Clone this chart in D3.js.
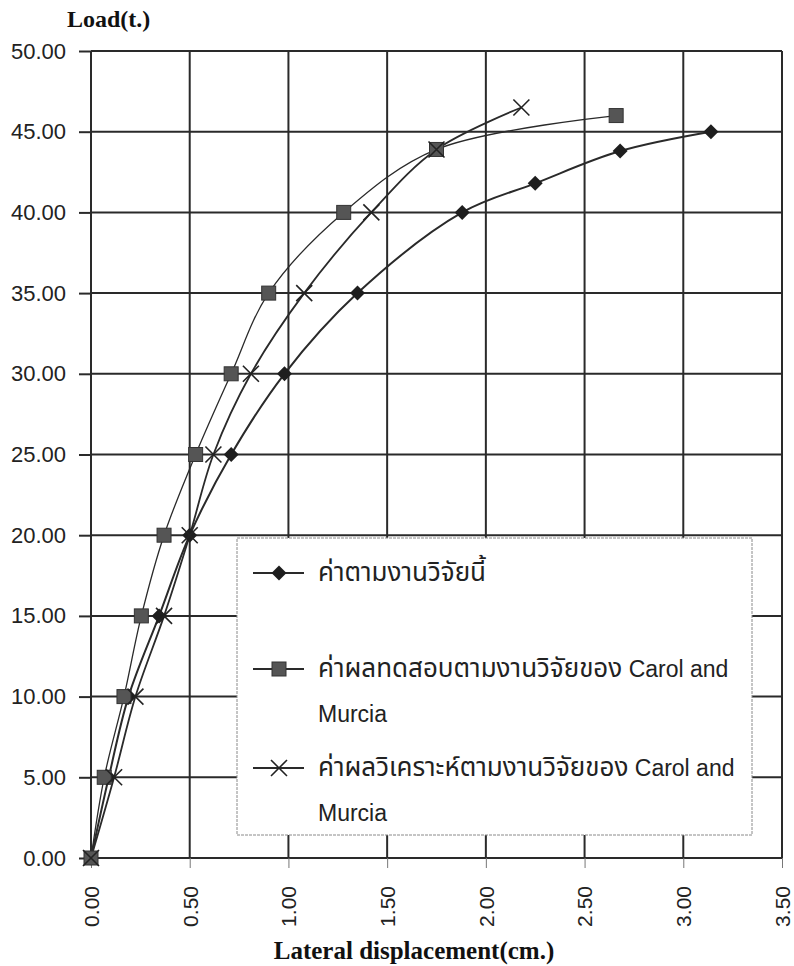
<!DOCTYPE html>
<html>
<head>
<meta charset="utf-8">
<script src="https://cdn.jsdelivr.net/npm/d3@7"></script>
<style>
  body { margin: 0; background: #fff; }
  svg { display: block; }
</style>
</head>
<body>
<div id="container"></div>
<script>

// ---- data ----
var loadThis = [0, 5, 10, 15, 20, 25, 30, 35, 40, 41.8, 43.8, 45];
var dispThis = [0, 0.09, 0.19, 0.345, 0.5, 0.71, 0.98, 1.35, 1.88, 2.25, 2.68, 3.14];

var loadTest = [0, 5, 10, 15, 20, 25, 30, 35, 40, 43.9, 46];
var dispTest = [0, 0.067, 0.167, 0.255, 0.37, 0.53, 0.71, 0.90, 1.28, 1.75, 2.66];

var loadAnalysis = [0, 5, 10, 15, 20, 25, 30, 35, 40, 43.9, 46.5];
var dispAnalysis = [0, 0.117, 0.225, 0.37, 0.5, 0.62, 0.81, 1.08, 1.42, 1.75, 2.18];

var xTicks = [0, 0.5, 1, 1.5, 2, 2.5, 3, 3.5];
var yTicks = [0, 5, 10, 15, 20, 25, 30, 35, 40, 45, 50];

// each legend line: [thai part, latin part]
var legendLabels = [
    [["ค่าตามงานวิจัยนี้", ""]],
    [["ค่าผลทดสอบตามงานวิจัยของ", " Carol and"], ["", "Murcia"]],
    [["ค่าผลวิเคราะห์ตามงานวิจัยของ", " Carol and"], ["", "Murcia"]]
];

var width = 794,
    height = 966;

var plot = { left: 91, right: 782, top: 51, bottom: 858 };

var ink = "#2a2a2a";
var thaiFont = "'Noto Sans Thai', 'Noto Sans Thai Looped', 'Noto Sans', 'DejaVu Sans', sans-serif";
var numFont = "'Liberation Sans', Arial, sans-serif";
var titleFont = "'Liberation Serif', 'Times New Roman', serif";

var x = d3.scaleLinear().domain([0, 3.5]).range([plot.left, plot.right]);
var y = d3.scaleLinear().domain([0, 50]).range([plot.bottom, plot.top]);

function zip(xs, ys) {
    return xs.map(function (v, i) { return { x: v, y: ys[i] }; });
}

var series = [
    { name: "this", marker: "diamond", width: 2, points: zip(dispThis, loadThis) },
    { name: "test", marker: "square", width: 1.3, points: zip(dispTest, loadTest) },
    { name: "analysis", marker: "cross", width: 1.8, points: zip(dispAnalysis, loadAnalysis) }
];

var svg = d3.select("div#container").append("svg")
    .attr("width", width)
    .attr("height", height);

svg.append("rect")
    .attr("width", width)
    .attr("height", height)
    .attr("fill", "#fff");

// grid
var grid = svg.append("g");

grid.selectAll(".vline")
    .data(xTicks)
    .enter().append("line")
    .attr("x1", function (d) { return x(d); })
    .attr("x2", function (d) { return x(d); })
    .attr("y1", plot.top)
    .attr("y2", plot.bottom)
    .attr("stroke", ink)
    .attr("stroke-width", 2);

grid.selectAll(".hline")
    .data(yTicks)
    .enter().append("line")
    .attr("x1", plot.left)
    .attr("x2", plot.right)
    .attr("y1", function (d) { return y(d); })
    .attr("y2", function (d) { return y(d); })
    .attr("stroke", ink)
    .attr("stroke-width", 2);

// axes
var yAxis = d3.axisLeft(y)
    .tickValues(yTicks)
    .tickSize(12)
    .tickPadding(13)
    .tickFormat(d3.format(".2f"));

var gy = svg.append("g")
    .attr("transform", "translate(" + plot.left + ",0)")
    .call(yAxis);
gy.select(".domain").remove();
gy.selectAll(".tick line").attr("stroke", ink).attr("stroke-width", 2);
gy.selectAll(".tick text")
    .attr("fill", "#222")
    .style("font-family", numFont)
    .style("font-size", "22px");

var xAxis = d3.axisBottom(x)
    .tickValues(xTicks)
    .tickSize(10)
    .tickFormat(d3.format(".2f"));

var gx = svg.append("g")
    .attr("transform", "translate(0," + plot.bottom + ")")
    .call(xAxis);
gx.select(".domain").remove();
gx.selectAll(".tick line").attr("stroke", "#777").attr("stroke-width", 1);
gx.selectAll(".tick text")
    .attr("fill", "#222")
    .attr("transform", "rotate(-90)")
    .attr("x", -28)
    .attr("y", 0)
    .attr("dy", "0.35em")
    .attr("text-anchor", "end")
    .style("font-family", numFont)
    .style("font-size", "21px");

// axis titles
svg.append("text")
    .attr("x", 67)
    .attr("y", 27)
    .attr("fill", "#111")
    .style("font-family", titleFont)
    .style("font-weight", "bold")
    .style("font-size", "24px")
    .text("Load(t.)");

svg.append("text")
    .attr("x", 414)
    .attr("y", 959)
    .attr("text-anchor", "middle")
    .attr("fill", "#111")
    .style("font-family", titleFont)
    .style("font-weight", "bold")
    .style("font-size", "25px")
    .text("Lateral displacement(cm.)");

// series lines
var line = d3.line()
    .x(function (d) { return x(d.x); })
    .y(function (d) { return y(d.y); })
    .curve(d3.curveCatmullRom.alpha(0.5));

svg.selectAll(".series")
    .data(series)
    .enter().append("path")
    .attr("class", "series")
    .attr("d", function (d) { return line(d.points); })
    .attr("fill", "none")
    .attr("stroke", ink)
    .attr("stroke-width", function (d) { return d.width; });

// markers
function drawMarker(g, type, cx, cy) {
    if (type === "diamond") {
        g.append("path")
            .attr("d", "M" + cx + "," + (cy - 7.5) + "L" + (cx + 7.5) + "," + cy +
                "L" + cx + "," + (cy + 7.5) + "L" + (cx - 7.5) + "," + cy + "Z")
            .attr("fill", "#1e1e1e");
    } else if (type === "square") {
        g.append("rect")
            .attr("x", cx - 7)
            .attr("y", cy - 7)
            .attr("width", 14)
            .attr("height", 14)
            .attr("fill", "#555")
            .attr("stroke", "#333")
            .attr("stroke-width", 1);
    } else {
        g.append("path")
            .attr("d", "M" + (cx - 8) + "," + (cy - 8) + "L" + (cx + 8) + "," + (cy + 8) +
                "M" + (cx - 8) + "," + (cy + 8) + "L" + (cx + 8) + "," + (cy - 8))
            .attr("stroke", "#222")
            .attr("stroke-width", 1.6);
    }
}

var markerLayer = svg.append("g");
series.forEach(function (s) {
    s.points.forEach(function (p) {
        drawMarker(markerLayer, s.marker, x(p.x), y(p.y));
    });
});

// legend
var legend = svg.append("g");

legend.append("rect")
    .attr("x", 237)
    .attr("y", 538)
    .attr("width", 515)
    .attr("height", 297)
    .attr("fill", "#fff")
    .attr("stroke", "#8a8a8a")
    .attr("stroke-width", 1)
    .attr("stroke-dasharray", "3,1");

var legendRows = [573, 669, 768];

series.forEach(function (s, i) {
    var ly = legendRows[i];
    legend.append("line")
        .attr("x1", 253)
        .attr("x2", 304)
        .attr("y1", ly)
        .attr("y2", ly)
        .attr("stroke", ink)
        .attr("stroke-width", 2);
    drawMarker(legend, s.marker, 279, ly);

    legendLabels[i].forEach(function (parts, j) {
        var t = legend.append("text")
            .attr("x", 318)
            .attr("y", ly + 8 + j * 45)
            .attr("fill", "#222");
        if (parts[0]) {
            t.append("tspan")
                .style("font-family", thaiFont)
                .style("font-size", "26px")
                .text(parts[0]);
        }
        if (parts[1]) {
            t.append("tspan")
                .style("font-family", numFont)
                .style("font-size", "23px")
                .text(parts[1]);
        }
    });
});

</script>
</body>
</html>
